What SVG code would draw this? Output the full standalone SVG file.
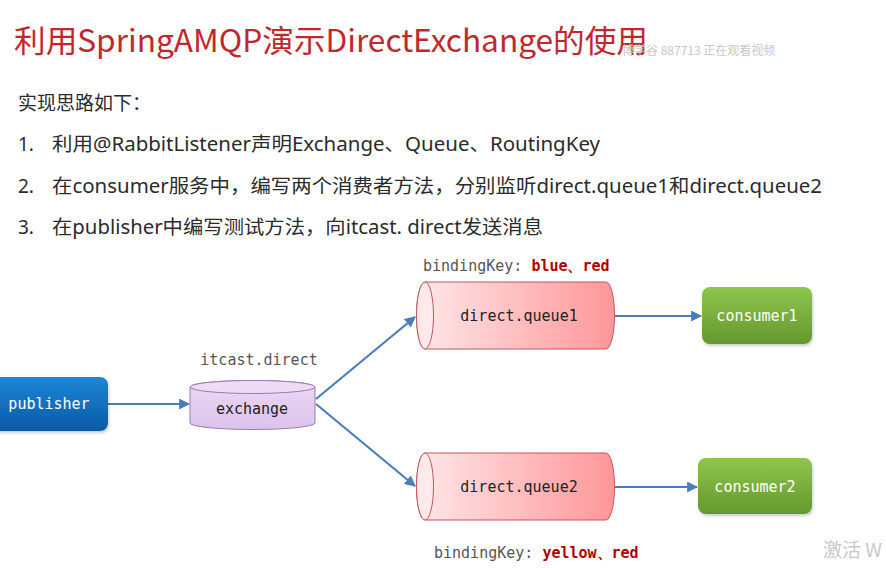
<svg xmlns="http://www.w3.org/2000/svg" width="886" height="568" viewBox="0 0 886 568">
<defs>
<style>
.title{font-family:"Noto Sans CJK SC","Noto Sans",sans-serif;font-size:31px;fill:#c0282d}
.body{font-family:"Noto Sans","Noto Sans CJK SC",sans-serif;font-size:19px;fill:#2b2b2b}
.mono{font-family:"DejaVu Sans Mono","Liberation Mono",monospace;font-size:15px}
.lbl{fill:#555}
.key{fill:#b00000;font-weight:bold}
.wm{font-family:"Noto Sans CJK SC",sans-serif;fill:#c8c8c8}
.conn{stroke:#4a7dba;stroke-width:2.2;fill:none;marker-end:url(#ah)}
</style>
<marker id="ah" viewBox="0 0 10 10" refX="9" refY="5" markerWidth="5" markerHeight="5" orient="auto" markerUnits="strokeWidth">
<path d="M0,0 L10,5 L0,10 z" fill="#4a7dba"/>
</marker>
<linearGradient id="gBlue" x1="0" y1="0" x2="0" y2="1">
<stop offset="0" stop-color="#1c86d6"/><stop offset="1" stop-color="#0b5aa6"/>
</linearGradient>
<linearGradient id="gGreen" x1="0" y1="0" x2="0" y2="1">
<stop offset="0" stop-color="#8fc64c"/><stop offset="1" stop-color="#64982e"/>
</linearGradient>
<linearGradient id="gPink" x1="0" y1="0" x2="1" y2="0">
<stop offset="0" stop-color="#ffe8ea"/><stop offset="1" stop-color="#ff9698"/>
</linearGradient>
<linearGradient id="gLav" x1="0" y1="0" x2="0" y2="1">
<stop offset="0" stop-color="#ecd9f5"/><stop offset="1" stop-color="#dcc2ec"/>
</linearGradient>
<filter id="sh" x="-10%" y="-10%" width="130%" height="140%">
<feDropShadow dx="1" dy="2" stdDeviation="1.5" flood-color="#000" flood-opacity="0.2"/>
</filter>
</defs>
<rect width="886" height="568" fill="#ffffff"/>

<text class="title" x="14" y="52" textLength="634" lengthAdjust="spacingAndGlyphs">利用SpringAMQP演示DirectExchange的使用</text>
<text class="wm" x="622" y="55" font-size="12">博学谷 887713 正在观看视频</text>

<text class="body" x="18" y="110">实现思路如下：</text>
<text class="body" x="18" y="151">1.</text>
<text class="body" x="52" y="151" textLength="548" lengthAdjust="spacingAndGlyphs">利用@RabbitListener声明Exchange、Queue、RoutingKey</text>
<text class="body" x="18" y="193">2.</text>
<text class="body" x="52" y="193" textLength="770" lengthAdjust="spacingAndGlyphs">在consumer服务中，编写两个消费者方法，分别监听direct.queue1和direct.queue2</text>
<text class="body" x="18" y="234">3.</text>
<text class="body" x="52" y="234" textLength="491" lengthAdjust="spacingAndGlyphs">在publisher中编写测试方法，向itcast. direct发送消息</text>

<g id="connectors">
<line class="conn" x1="108" y1="404" x2="189" y2="404"/>
<line class="conn" x1="316" y1="399" x2="415" y2="317"/>
<line class="conn" x1="316" y1="404" x2="415" y2="486"/>
<line class="conn" x1="615" y1="316" x2="701" y2="316"/>
<line class="conn" x1="615" y1="487" x2="697" y2="487"/>
</g>

<g id="publisher">
<rect x="-8" y="377" width="116" height="54" rx="8" fill="url(#gBlue)" filter="url(#sh)"/>
<text class="mono" x="49" y="409" fill="#ffffff" text-anchor="middle">publisher</text>
</g>

<g id="exchange">
<text class="mono lbl" x="259" y="365" text-anchor="middle">itcast.direct</text>
<path d="M190,387 L190,423 A62.5,6.5 0 0 0 315,423 L315,387 A62.5,6.5 0 0 0 190,387 Z" fill="url(#gLav)" stroke="#9b79b4" stroke-width="1"/>
<ellipse cx="252.5" cy="387" rx="62.5" ry="6.5" fill="#eedcf6" stroke="#9b79b4" stroke-width="1"/>
<text class="mono" x="252" y="414" fill="#222" text-anchor="middle">exchange</text>
</g>

<g id="queue1">
<text class="mono" x="423" y="271"><tspan class="lbl">bindingKey: </tspan><tspan class="key">blue、red</tspan></text>
<path d="M425,282 L606,282 A8.5,33.5 0 0 1 606,349 L425,349 A8.5,33.5 0 0 1 425,282 Z" fill="url(#gPink)" stroke="#c4545c" stroke-width="1"/>
<ellipse cx="425" cy="315.5" rx="8.5" ry="33.5" fill="#ffe9eb" stroke="#c4545c" stroke-width="1"/>
<text class="mono" x="519" y="321" fill="#222" text-anchor="middle">direct.queue1</text>
</g>

<g id="queue2">
<path d="M425,453 L606,453 A8.5,33.5 0 0 1 606,520 L425,520 A8.5,33.5 0 0 1 425,453 Z" fill="url(#gPink)" stroke="#c4545c" stroke-width="1"/>
<ellipse cx="425" cy="486.5" rx="8.5" ry="33.5" fill="#ffe9eb" stroke="#c4545c" stroke-width="1"/>
<text class="mono" x="519" y="492" fill="#222" text-anchor="middle">direct.queue2</text>
<text class="mono" x="434" y="558"><tspan class="lbl">bindingKey: </tspan><tspan class="key">yellow、red</tspan></text>
</g>

<g id="consumer1">
<rect x="702" y="287" width="110" height="57" rx="8" fill="url(#gGreen)" filter="url(#sh)"/>
<text class="mono" x="757" y="321" fill="#ffffff" text-anchor="middle">consumer1</text>
</g>

<g id="consumer2">
<rect x="698" y="458" width="114" height="56" rx="8" fill="url(#gGreen)" filter="url(#sh)"/>
<text class="mono" x="755" y="492" fill="#ffffff" text-anchor="middle">consumer2</text>
</g>

<text class="wm" x="823" y="557" font-size="19" fill="#bdbdbd">激活 W</text>
</svg>
